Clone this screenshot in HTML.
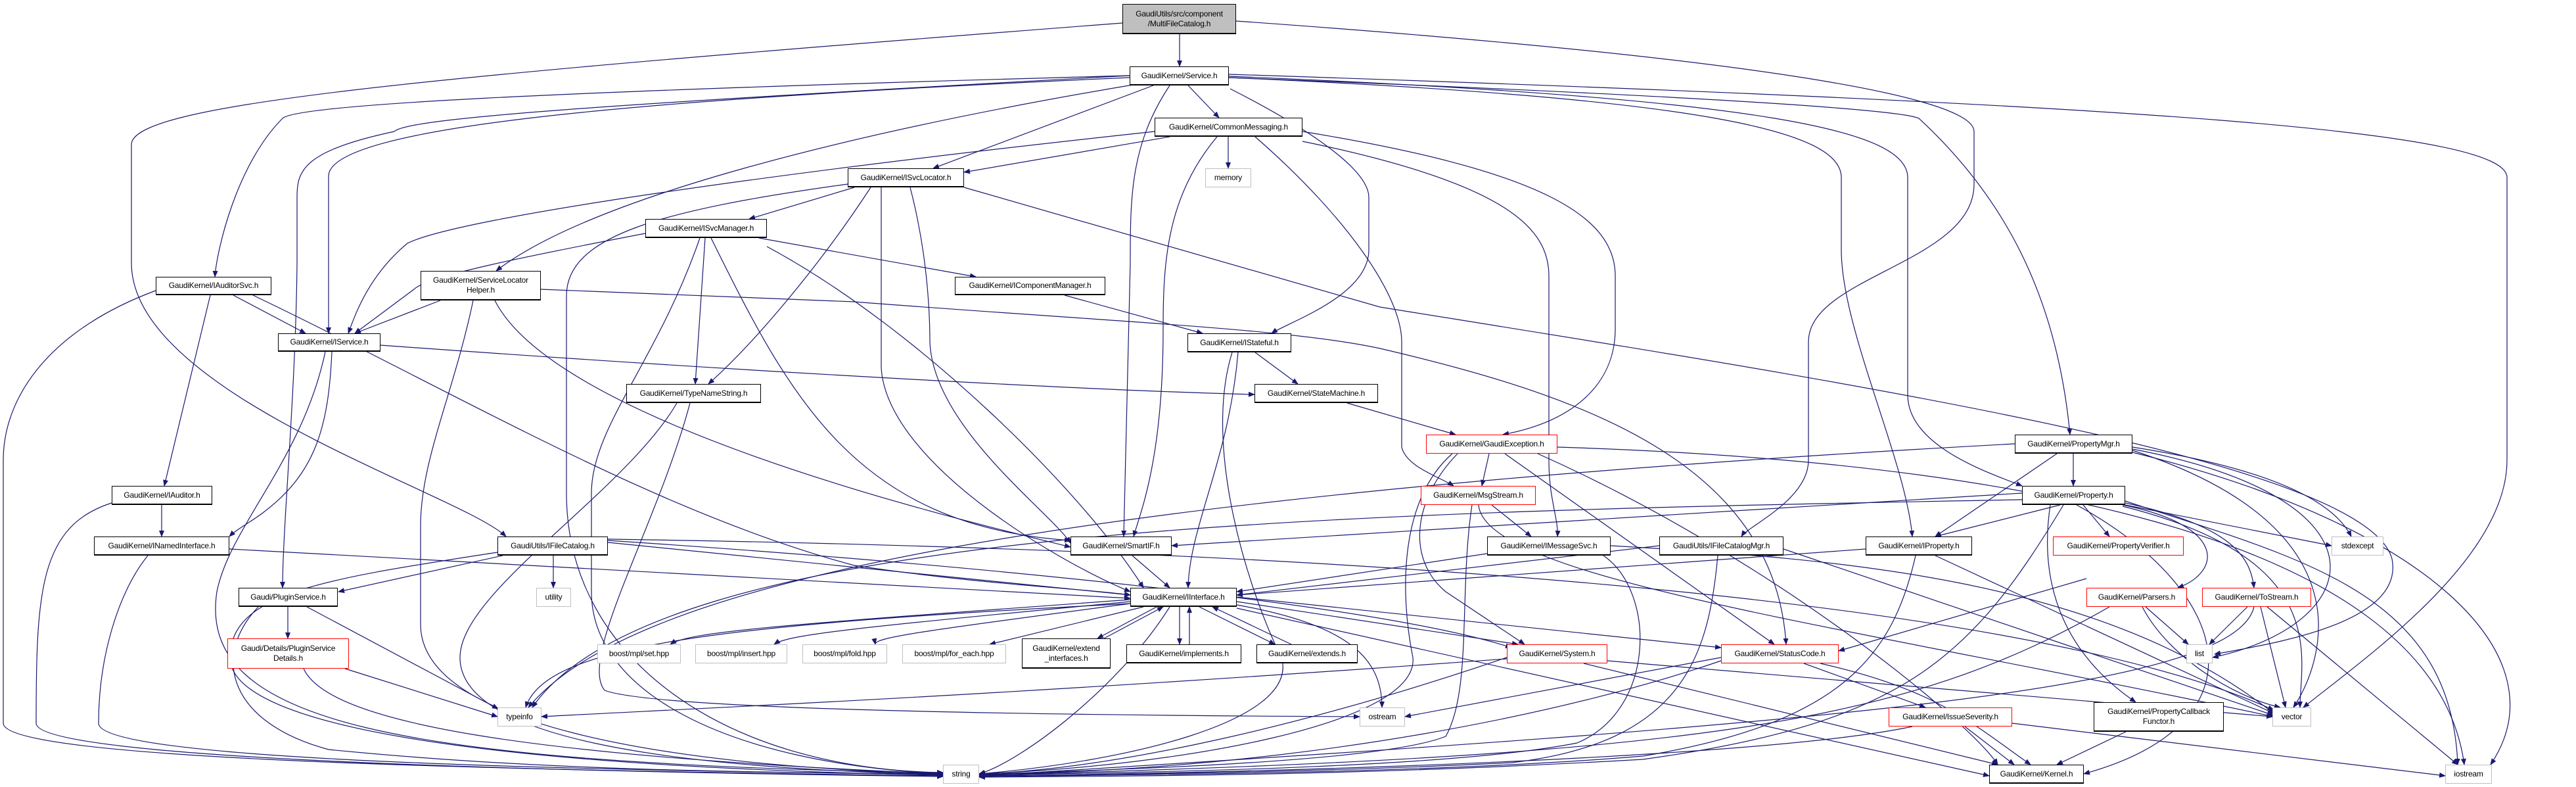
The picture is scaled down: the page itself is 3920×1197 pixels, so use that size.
<!DOCTYPE html>
<html><head><meta charset="utf-8"><style>
body{margin:0;width:3920px;height:1197px;background:#fff;position:relative;overflow:hidden;font-family:"Liberation Sans",sans-serif}
svg{position:absolute;left:0;top:0}
.n{position:absolute;box-sizing:border-box;border:1px solid #000;border-bottom-width:2px;background:#fff;display:flex;align-items:center;justify-content:center;text-align:center;font-size:12px;line-height:15px;color:#000;white-space:nowrap;letter-spacing:-0.2px}
.g{border:1px solid #bfbfbf}
.r{border:1px solid #ff0000}
</style></head><body>
<svg width="3920" height="1197" viewBox="0 0 3920 1197">
<defs><marker id="a" markerWidth="10" markerHeight="8" refX="9" refY="4" orient="auto" markerUnits="userSpaceOnUse"><path d="M0,0 L10,4 L0,8 z" fill="#191970"/></marker></defs>
<g fill="none" stroke="#191970" stroke-width="1.2" marker-end="url(#a)">
<path d="M1795,52 L1795,101"/>
<path d="M1708,35 C600,120 200,160 200,220 L200,400 C200,600 700,750 770,816"/>
<path d="M1881,32 C2700,90 3004,150 3004,200 L3004,280 C3004,400 2752,420 2752,520 L2752,700 C2752,760 2660,800 2650,816"/>
<path d="M1719,115 C800,140 450,160 430,180 C360,250 330,380 327,421"/>
<path d="M1719,118 C1000,150 500,190 500,268 L500,507"/>
<path d="M1719,115 C900,160 620,180 600,200 C460,230 452,260 452,300 L452,400 C450,600 430,800 430,894"/>
<path d="M1730,128 C1300,200 900,300 755,412"/>
<path d="M1755,130 L1420,256"/>
<path d="M1780,130 C1720,220 1720,300 1720,400 L1710,816"/>
<path d="M1808,130 L1855,179"/>
<path d="M1872,135 C2000,200 2083,260 2083,300 L2083,380 C2083,450 1960,490 1935,507"/>
<path d="M1870,118 C2600,150 2802,200 2802,270 L2802,380 C2802,500 2900,700 2910,816"/>
<path d="M1870,116 C2700,150 2903,200 2903,270 L2903,600 C2903,680 3030,720 3077,739"/>
<path d="M1870,118 C2700,150 2900,170 2920,180 C3050,300 3130,450 3150,661"/>
<path d="M1870,113 C3300,160 3815,200 3815,270 L3815,700 C3815,850 3600,1000 3505,1076"/>
<path d="M1780,208 L1467,262"/>
<path d="M1757,200 C1200,260 700,330 620,370 C560,420 540,480 530,507"/>
<path d="M1869,208 L1869,256"/>
<path d="M1852,208 C1775,300 1770,400 1770,500 C1770,700 1735,780 1725,816"/>
<path d="M1910,208 C2050,330 2133,450 2133,520 L2133,680 C2140,710 2190,725 2212,739"/>
<path d="M1982,215 C2300,280 2357,350 2357,420 L2357,700 C2357,760 2372,790 2370,816"/>
<path d="M1982,200 C2350,260 2458,330 2458,420 L2458,500 C2458,580 2400,640 2287,661"/>
<path d="M1300,285 L1140,333"/>
<path d="M1325,285 C1250,400 1150,520 1078,584"/>
<path d="M1341,285 C1341,400 1341,500 1341,560 C1350,700 1600,850 1720,900"/>
<path d="M1385,285 C1415,400 1415,500 1415,520 C1420,650 1600,780 1629,826"/>
<path d="M1290,280 C1000,320 862,360 862,450 L862,750 C862,1000 1100,1170 1435,1175"/>
<path d="M1467,285 L2100,467 C2800,580 3600,700 3640,850 C3660,950 3450,980 3370,995"/>
<path d="M982,355 C800,390 650,420 630,440 L540,507"/>
<path d="M1155,362 L1485,421"/>
<path d="M1073,362 L1058,584"/>
<path d="M1065,362 C1000,550 900,650 900,750 L900,900 C900,1050 1100,1160 1435,1177"/>
<path d="M1082,362 C1200,600 1300,800 1629,822"/>
<path d="M1167,375 C1400,500 1650,750 1740,894"/>
<path d="M670,457 L540,507"/>
<path d="M720,457 C690,600 640,700 640,800 L640,950 C640,1100 1000,1165 1435,1177"/>
<path d="M753,457 C850,650 1500,800 1629,832"/>
<path d="M823,440 L1300,459 C1700,490 1963,500 2100,530 C2400,600 2700,700 2718,980"/>
<path d="M355,449 L465,507"/>
<path d="M320,449 L250,739"/>
<path d="M237,442 C80,500 5,600 5,700 L5,1100 C5,1150 600,1170 1435,1180"/>
<path d="M385,449 C700,600 1000,780 1300,860 C1500,890 1650,895 1720,905"/>
<path d="M1620,449 L1830,507"/>
<path d="M579,525 C1200,570 1700,595 1909,600"/>
<path d="M505,535 C500,650 480,720 400,780 C380,795 360,805 349,816"/>
<path d="M495,535 C460,700 350,800 330,900 C300,1100 600,1160 1435,1176"/>
<path d="M1910,536 L1975,584"/>
<path d="M1884,536 C1870,700 1810,800 1808,894"/>
<path d="M1875,536 C1830,680 1900,900 1950,1000 C1980,1100 1700,1160 1490,1177"/>
<path d="M2050,613 L2215,661"/>
<path d="M2266,690 L2255,739"/>
<path d="M2218,690 C2150,760 2140,850 2200,900 L2320,980"/>
<path d="M2210,690 C2130,760 2130,900 2150,1000 C2160,1100 1800,1165 1490,1177"/>
<path d="M2290,690 L2700,980"/>
<path d="M2340,690 C2700,850 3000,1100 3040,1163"/>
<path d="M2370,680 C3000,700 3700,800 3750,1163"/>
<path d="M2270,768 L2330,816"/>
<path d="M2240,768 C2220,900 2240,1050 2200,1120 C2100,1160 1700,1170 1490,1178"/>
<path d="M2250,768 C2260,880 2800,950 3460,1090"/>
<path d="M2263,842 L1882,900"/>
<path d="M2440,845 C2520,900 2520,1080 2400,1130 C2200,1170 1700,1175 1490,1179"/>
<path d="M2451,830 C2800,850 3200,880 3460,1085"/>
<path d="M2525,830 L1882,905"/>
<path d="M2614,845 C2600,1000 2560,1130 2300,1160 C2000,1175 1700,1178 1490,1180"/>
<path d="M2714,835 L3460,1088"/>
<path d="M246,768 L246,816"/>
<path d="M170,765 C60,800 55,900 55,1100 C55,1150 700,1172 1435,1181"/>
<path d="M349,835 L1720,910"/>
<path d="M225,845 C180,900 150,1000 150,1100 C150,1150 700,1170 1435,1178"/>
<path d="M765,845 L515,900"/>
<path d="M842,845 L842,894"/>
<path d="M925,825 L1720,905"/>
<path d="M757,840 C500,880 350,900 350,1000 C350,1100 700,1165 1435,1179"/>
<path d="M925,822 C1500,860 2100,920 2300,985"/>
<path d="M925,820 C1600,830 3000,870 3460,1080"/>
<path d="M438,923 L438,971"/>
<path d="M467,923 L758,1078"/>
<path d="M393,923 C320,1000 350,1100 500,1140 C800,1170 1100,1175 1435,1177"/>
<path d="M525,1017 L757,1090"/>
<path d="M462,1017 C500,1100 800,1150 1435,1177"/>
<path d="M1723,845 L1780,894"/>
<path d="M1720,912 C1200,950 1050,960 1020,980"/>
<path d="M1720,915 C1300,955 1200,965 1178,980"/>
<path d="M1720,918 C1400,960 1330,970 1332,980"/>
<path d="M1740,923 L1506,980"/>
<path d="M1760,923 L1670,971"/>
<path d="M1680,971 L1770,923"/>
<path d="M1795,923 L1795,980"/>
<path d="M1810,980 L1810,923"/>
<path d="M1825,923 L1940,980"/>
<path d="M1965,980 L1845,923"/>
<path d="M1882,915 L2310,980"/>
<path d="M1882,908 L2619,985"/>
<path d="M1882,920 C2050,950 2103,1000 2103,1076"/>
<path d="M1720,918 C1100,950 830,980 800,1076"/>
<path d="M1780,923 C1700,1050 1550,1160 1490,1177"/>
<path d="M1882,925 L3027,1180"/>
<path d="M2293,1000 C2000,1100 1700,1170 1490,1177"/>
<path d="M2293,1002 C1500,1060 1000,1080 824,1090"/>
<path d="M2410,1009 L3040,1163"/>
<path d="M2446,1005 L3458,1090"/>
<path d="M2619,1000 L2138,1090"/>
<path d="M2745,1009 L2930,1076"/>
<path d="M2770,1009 C2950,1050 3000,1100 3090,1163"/>
<path d="M2619,1005 C2400,1080 2000,1170 1490,1178"/>
<path d="M2990,1105 L3065,1163"/>
<path d="M2910,1105 C2700,1150 2000,1175 1490,1180"/>
<path d="M3062,1100 L3721,1180"/>
<path d="M3235,1113 L3130,1163"/>
<path d="M2839,835 L1882,905"/>
<path d="M2915,845 C2880,1000 2800,1100 2500,1150 C2200,1175 1800,1178 1490,1181"/>
<path d="M2945,845 L3460,1085"/>
<path d="M3135,768 L2945,816"/>
<path d="M3170,768 L3210,816"/>
<path d="M3230,768 C3390,800 3380,870 3314,894"/>
<path d="M3234,765 C3400,800 3425,850 3430,894"/>
<path d="M3120,768 C3100,900 3150,1000 3250,1068"/>
<path d="M3140,768 C3000,1000 2900,1100 2500,1155 C2100,1178 1800,1180 1490,1182"/>
<path d="M3234,768 L3548,830"/>
<path d="M3077,750 L1783,830"/>
<path d="M3160,768 C3400,900 3450,1100 3171,1177"/>
<path d="M3234,762 C3500,850 3730,900 3740,1163"/>
<path d="M3230,770 C3550,850 3500,1000 3500,1076"/>
<path d="M3077,760 C2000,780 1000,800 810,1076"/>
<path d="M3155,690 L3155,739"/>
<path d="M3130,690 L2945,816"/>
<path d="M3245,680 C3500,720 3560,780 3578,816"/>
<path d="M3245,685 C3600,800 3540,1000 3490,1076"/>
<path d="M3245,688 C3700,800 3900,1000 3790,1163"/>
<path d="M3245,683 C3650,760 3600,950 3367,1000"/>
<path d="M3066,675 C1500,760 950,900 804,1076"/>
<path d="M3175,880 L2798,990"/>
<path d="M3265,923 L3330,980"/>
<path d="M3260,923 C3300,1000 3400,1060 3470,1076"/>
<path d="M3210,923 C2900,1100 2600,1150 1490,1179"/>
<path d="M3420,923 L3362,980"/>
<path d="M3440,923 L3478,1076"/>
<path d="M3450,923 L3740,1163"/>
<path d="M3430,923 C3400,1050 2800,1100 1490,1180"/>
<path d="M1030,613 C950,750 700,900 700,1000 C700,1120 1000,1168 1435,1178"/>
<path d="M1050,613 C1000,800 880,1000 920,1050 C1000,1080 1600,1088 2069,1090"/>
</g></svg>
<div class="n" style="left:1708px;top:6px;width:173px;height:46px;background:#bfbfbf">GaudiUtils/src/component<br>/MultiFileCatalog.h</div>
<div class="n" style="left:1719px;top:101px;width:151px;height:29px">GaudiKernel/Service.h</div>
<div class="n" style="left:1757px;top:179px;width:225px;height:29px">GaudiKernel/CommonMessaging.h</div>
<div class="n" style="left:1290px;top:256px;width:177px;height:29px">GaudiKernel/ISvcLocator.h</div>
<div class="n g" style="left:1834px;top:256px;width:70px;height:29px">memory</div>
<div class="n" style="left:982px;top:333px;width:185px;height:29px">GaudiKernel/ISvcManager.h</div>
<div class="n" style="left:640px;top:412px;width:183px;height:45px">GaudiKernel/ServiceLocator<br>Helper.h</div>
<div class="n" style="left:237px;top:421px;width:176px;height:28px">GaudiKernel/IAuditorSvc.h</div>
<div class="n" style="left:1453px;top:421px;width:229px;height:28px">GaudiKernel/IComponentManager.h</div>
<div class="n" style="left:423px;top:507px;width:156px;height:28px">GaudiKernel/IService.h</div>
<div class="n" style="left:1807px;top:507px;width:158px;height:29px">GaudiKernel/IStateful.h</div>
<div class="n" style="left:953px;top:584px;width:205px;height:29px">GaudiKernel/TypeNameString.h</div>
<div class="n" style="left:1909px;top:584px;width:188px;height:29px">GaudiKernel/StateMachine.h</div>
<div class="n" style="left:3066px;top:661px;width:179px;height:29px">GaudiKernel/PropertyMgr.h</div>
<div class="n r" style="left:2170px;top:661px;width:200px;height:29px">GaudiKernel/GaudiException.h</div>
<div class="n" style="left:170px;top:739px;width:153px;height:29px">GaudiKernel/IAuditor.h</div>
<div class="n r" style="left:2162px;top:739px;width:175px;height:29px">GaudiKernel/MsgStream.h</div>
<div class="n" style="left:3077px;top:739px;width:157px;height:29px">GaudiKernel/Property.h</div>
<div class="n" style="left:143px;top:816px;width:206px;height:29px">GaudiKernel/INamedInterface.h</div>
<div class="n" style="left:757px;top:816px;width:168px;height:29px">GaudiUtils/IFileCatalog.h</div>
<div class="n" style="left:1629px;top:816px;width:154px;height:29px">GaudiKernel/SmartIF.h</div>
<div class="n" style="left:2263px;top:816px;width:188px;height:29px">GaudiKernel/IMessageSvc.h</div>
<div class="n" style="left:2525px;top:816px;width:189px;height:29px">GaudiUtils/IFileCatalogMgr.h</div>
<div class="n" style="left:2839px;top:816px;width:162px;height:29px">GaudiKernel/IProperty.h</div>
<div class="n r" style="left:3124px;top:816px;width:199px;height:29px">GaudiKernel/PropertyVerifier.h</div>
<div class="n g" style="left:3548px;top:816px;width:79px;height:29px">stdexcept</div>
<div class="n" style="left:363px;top:894px;width:151px;height:29px">Gaudi/PluginService.h</div>
<div class="n g" style="left:816px;top:894px;width:53px;height:29px">utility</div>
<div class="n" style="left:1720px;top:894px;width:162px;height:29px">GaudiKernel/IInterface.h</div>
<div class="n r" style="left:3175px;top:894px;width:153px;height:29px">GaudiKernel/Parsers.h</div>
<div class="n r" style="left:3351px;top:894px;width:166px;height:29px">GaudiKernel/ToStream.h</div>
<div class="n r" style="left:346px;top:971px;width:185px;height:46px">Gaudi/Details/PluginService<br>Details.h</div>
<div class="n g" style="left:909px;top:980px;width:127px;height:29px">boost/mpl/set.hpp</div>
<div class="n g" style="left:1058px;top:980px;width:140px;height:29px">boost/mpl/insert.hpp</div>
<div class="n g" style="left:1221px;top:980px;width:129px;height:29px">boost/mpl/fold.hpp</div>
<div class="n g" style="left:1373px;top:980px;width:158px;height:29px">boost/mpl/for_each.hpp</div>
<div class="n" style="left:1555px;top:971px;width:135px;height:46px">GaudiKernel/extend<br>_interfaces.h</div>
<div class="n" style="left:1714px;top:980px;width:175px;height:29px">GaudiKernel/implements.h</div>
<div class="n" style="left:1912px;top:980px;width:154px;height:29px">GaudiKernel/extends.h</div>
<div class="n r" style="left:2293px;top:980px;width:153px;height:29px">GaudiKernel/System.h</div>
<div class="n r" style="left:2619px;top:980px;width:179px;height:29px">GaudiKernel/StatusCode.h</div>
<div class="n g" style="left:3327px;top:980px;width:40px;height:29px">list</div>
<div class="n g" style="left:757px;top:1076px;width:67px;height:29px">typeinfo</div>
<div class="n g" style="left:2069px;top:1076px;width:69px;height:29px">ostream</div>
<div class="n r" style="left:2874px;top:1076px;width:188px;height:29px">GaudiKernel/IssueSeverity.h</div>
<div class="n" style="left:3186px;top:1068px;width:198px;height:45px">GaudiKernel/PropertyCallback<br>Functor.h</div>
<div class="n g" style="left:3458px;top:1076px;width:59px;height:29px">vector</div>
<div class="n g" style="left:1435px;top:1163px;width:55px;height:29px">string</div>
<div class="n" style="left:3027px;top:1163px;width:144px;height:29px">GaudiKernel/Kernel.h</div>
<div class="n g" style="left:3721px;top:1163px;width:71px;height:29px">iostream</div>
</body></html>
